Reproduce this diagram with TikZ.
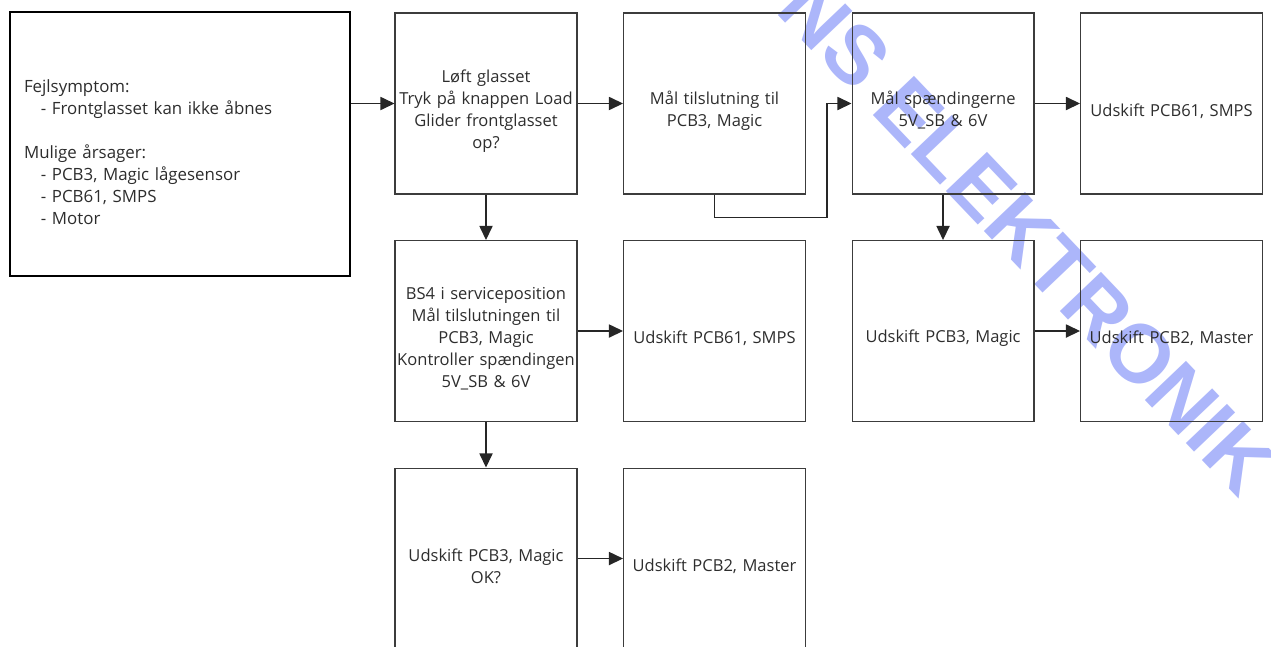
\documentclass[tikz,border=0pt]{standalone}
\usepackage{fontspec}
\setmainfont{Open Sans}
\newfontfamily\wmfont{Liberation Sans}
\usepackage{tikz}
\usetikzlibrary{arrows.meta,positioning}
\definecolor{boxline}{RGB}{60,60,60}
\definecolor{boxtext}{RGB}{45,45,45}
\definecolor{wmblue}{RGB}{172,182,250}
\tikzset{
  stepbox/.style={draw=boxline,line width=0.6pt,text=boxtext,align=center,
    text width=3.64cm,minimum width=3.64cm,minimum height=3.62cm,inner xsep=0pt,inner ysep=1pt,
    font=\fontsize{9.4}{12.5}\selectfont,
    execute at begin node={\rule{0pt}{15.5pt}}},
  arr/.style={-{Triangle[length=8pt,width=7.5pt]},line width=0.7pt,black!85}
}
\begin{document}
\begin{tikzpicture}[x=0.02cm,y=-0.02cm,node distance=0.91cm]
 \useasboundingbox (0,0) rectangle (1271,646);
 \clip (0,0) rectangle (1271,646);
 % watermark
 \node[wmblue,rotate=-46.4,font=\wmfont\bfseries\fontsize{47}{47}\selectfont] (wmark) at (1028,236) {NS ELEKTRONIK};
 % symptom box
 \node[draw=black,line width=1.5pt,text=boxtext,align=left,text width=6.24cm,inner xsep=0.28cm,
   minimum height=5.28cm,font=\fontsize{9.6}{12.5}\selectfont,
   execute at begin node={\rule{0pt}{16.3pt}}] (symptom) at (180,144)
   {Fejlsymptom:\\
    \hspace*{9.6pt}- Frontglasset kan ikke åbnes\\[12.5pt]
    Mulige årsager:\\
    \hspace*{9.6pt}- PCB3, Magic lågesensor\\
    \hspace*{9.6pt}- PCB61, SMPS\\
    \hspace*{9.6pt}- Motor};
 % first row
 \node[stepbox] (lift) at (486,103.5) {Løft glasset\\Tryk på knappen Load\\Glider frontglasset\\op?};
 \node[stepbox,right=of lift] (measure) {Mål tilslutning til\\PCB3, Magic};
 \node[stepbox,right=of measure] (volt) {Mål spændingerne\\5V\_SB \& 6V};
 \node[stepbox,right=of volt] (smpsA) {Udskift PCB61, SMPS};
 % second row
 \node[stepbox,below=of lift] (service) {BS4 i serviceposition\\Mål tilslutningen til\\PCB3, Magic\\Kontroller spændingen\\5V\_SB \& 6V};
 \node[stepbox,right=of service] (smpsB) {Udskift PCB61, SMPS};
 \node[stepbox,below=of volt] (magicA) {Udskift PCB3, Magic};
 \node[stepbox,right=of magicA] (masterA) {Udskift PCB2, Master};
 % third row
 \node[stepbox,below=of service] (magicB) {Udskift PCB3, Magic\\OK?};
 \node[stepbox,right=of magicB] (masterB) {Udskift PCB2, Master};
 % connectors
 \coordinate (bend) at (827,103.5);
 \draw[arr] (symptom.east |- lift.west) -- (lift.west);
 \draw[arr] (lift) -- (measure);
 \draw[arr] (measure.south) -- ++(0,23) -| (bend) -- (volt.west);
 \draw[arr] (volt) -- (smpsA);
 \draw[arr] (lift) -- (service);
 \draw[arr] (volt) -- (magicA);
 \draw[arr] (service) -- (smpsB);
 \draw[arr] (magicA) -- (masterA);
 \draw[arr] (service) -- (magicB);
 \draw[arr] (magicB) -- (masterB);
\end{tikzpicture}
\end{document}
